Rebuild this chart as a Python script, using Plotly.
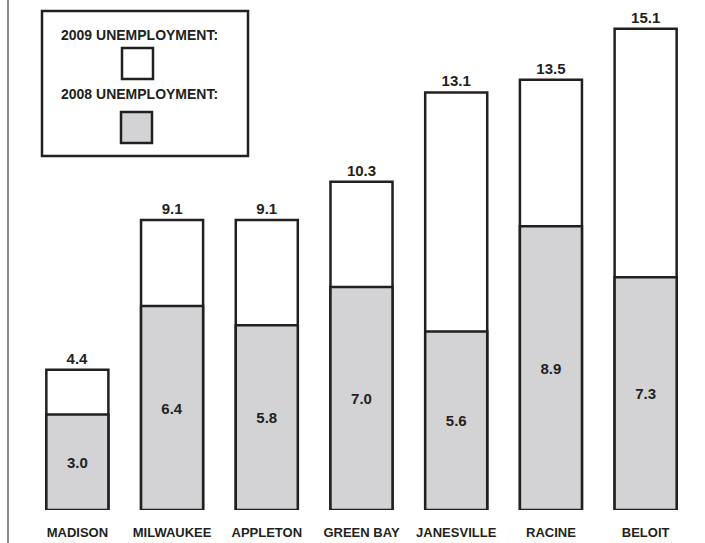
import plotly.graph_objects as go

cities = ["MADISON", "MILWAUKEE", "APPLETON", "GREEN BAY", "JANESVILLE", "RACINE", "BELOIT"]
unemp_2009 = [4.4, 9.1, 9.1, 10.3, 13.1, 13.5, 15.1]
unemp_2008 = [3.0, 6.4, 5.8, 7.0, 5.6, 8.9, 7.3]

FONT = "Liberation Sans, Arial, sans-serif"
DARK = "#231f20"
GRAY = "#d3d3d5"

W, H = 705, 543
L, R, T, B = 30, 12, 0, 33
pw, ph = W - L - R, H - T - B

def px_x(x):
    return (x - L) / pw

def px_y(y):
    return (H - B - y) / ph

fig = go.Figure()
fig.add_trace(go.Bar(
    x=cities, y=unemp_2009, width=0.655,
    marker=dict(color="white", line=dict(color=DARK, width=2.5)),
    text=[f"{v:.1f}" for v in unemp_2009], textposition="outside",
    textfont=dict(family=FONT, size=15, color=DARK, weight="bold"),
    cliponaxis=False, showlegend=False, hoverinfo="skip",
))
fig.add_trace(go.Bar(
    x=cities, y=unemp_2008, width=0.655,
    marker=dict(color=GRAY, line=dict(color=DARK, width=2.5)),
    text=[f"{v:.1f}" for v in unemp_2008], textposition="inside",
    insidetextanchor="middle",
    textfont=dict(family=FONT, size=15, color=DARK, weight="bold"),
    cliponaxis=False, showlegend=False, hoverinfo="skip",
))

shapes = [
    dict(type="line", xref="paper", yref="paper", x0=px_x(8), x1=px_x(8),
         y0=px_y(H), y1=px_y(0), line=dict(color="#8a8a8a", width=2)),
    dict(type="rect", xref="paper", yref="paper", x0=px_x(42), x1=px_x(248),
         y0=px_y(156), y1=px_y(11), line=dict(color=DARK, width=2.5), fillcolor="white"),
    dict(type="rect", xref="paper", yref="paper", x0=px_x(122), x1=px_x(153),
         y0=px_y(79), y1=px_y(48), line=dict(color=DARK, width=2.5), fillcolor="white"),
    dict(type="rect", xref="paper", yref="paper", x0=px_x(121), x1=px_x(152),
         y0=px_y(143), y1=px_y(112), line=dict(color=DARK, width=2.5), fillcolor=GRAY),
]
annotations = [
    dict(text="2009 UNEMPLOYMENT:", xref="paper", yref="paper", x=px_x(139), y=px_y(35),
         showarrow=False, xanchor="center", yanchor="middle",
         font=dict(family=FONT, size=14, color=DARK, weight="bold")),
    dict(text="2008 UNEMPLOYMENT:", xref="paper", yref="paper", x=px_x(139), y=px_y(94),
         showarrow=False, xanchor="center", yanchor="middle",
         font=dict(family=FONT, size=14, color=DARK, weight="bold")),
]

fig.update_layout(
    width=W, height=H, margin=dict(l=L, r=R, t=T, b=B),
    barmode="overlay", plot_bgcolor="white", paper_bgcolor="white",
    shapes=shapes, annotations=annotations,
    xaxis=dict(range=[-0.5, 6.5], showgrid=False, zeroline=False, showline=False,
               ticks="", ticklabelstandoff=13,
               tickfont=dict(family=FONT, size=13, color=DARK, weight="bold")),
    yaxis=dict(range=[0, 16], visible=False),
)
fig.write_html("out.html")
